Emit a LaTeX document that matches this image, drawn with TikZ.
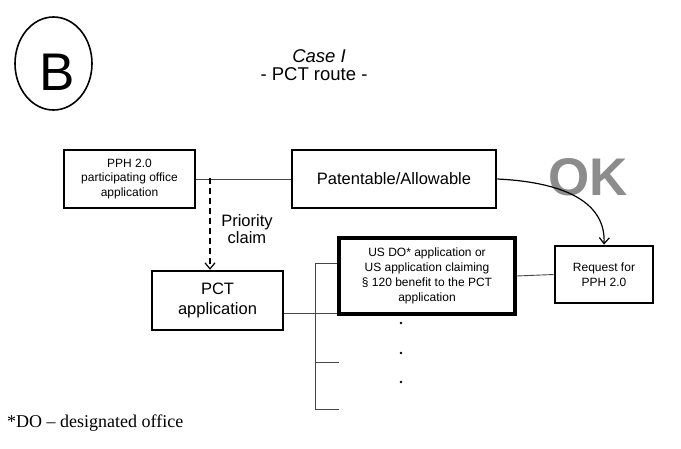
\documentclass[tikz,border=0pt]{standalone}
\usepackage{fontspec}
\setmainfont{Liberation Sans}
\newfontfamily\notefont{Liberation Serif}
\usetikzlibrary{arrows.meta}

\begin{document}
\begin{tikzpicture}[x=1pt,y=1pt,yscale=-1,xscale=1,
    box/.style={draw, line width=2.3pt, align=center, inner sep=0pt, font=\fontsize{12}{14.8}\selectfont},
    bigbox/.style={box, line width=2.8pt, font=\fontsize{16.5}{20}\selectfont},
    link/.style={color={rgb, 255:red, 70; green, 70; blue, 70}, line width=0.9pt},
    barb/.style={-{Straight Barb[length=6pt,width=10pt]}}]
\useasboundingbox (0,0) rectangle (681,448);
% Circled letter
\draw [line width=1.6pt] (53.5,63.5) ellipse [x radius=38.5, y radius=46.5];
\node (lbl) at (57,90) [anchor=base, inner sep=0pt] {\fontsize{53}{53}\selectfont B};
% Text Node
\node (case) at (319,62) [anchor=base, inner sep=0pt] {\fontsize{18.5}{20}\selectfont\itshape Case I};
% Text Node
\node (route) at (314,80) [anchor=base, inner sep=0pt] {\fontsize{18.5}{20}\selectfont - PCT route -};

% Boxes
\node (pph) at (129.5,179) [box, minimum width=131pt, minimum height=58pt] {PPH 2.0\\participating office\\application};
\node (pat) at (394,179) [bigbox, minimum width=204pt, minimum height=58pt] {Patentable/Allowable};
\node (pct) at (217.5,300.5) [bigbox, line width=2.5pt, minimum width=131pt, minimum height=59pt] {PCT\\application};
\node (us) at (427,276) [box, line width=3.3pt, minimum width=176pt, minimum height=76pt] {US DO* application or\\US application claiming\\§ 120 benefit to the PCT\\application};
\node (req) at (604,274.5) [box, line width=2.8pt, minimum width=98pt, minimum height=57pt] {Request for\\PPH 2.0};

% Text Node
\node (ok) at (588,195) [anchor=base, inner sep=0pt, text=black!45, font=\fontsize{53}{53}\selectfont\bfseries] {OK};
% Text Node
\node (prio) at (247,229) [align=center, inner sep=0pt, font=\fontsize{16.5}{17.5}\selectfont] {Priority\\claim};

%Straight Lines
\draw [link] (pph.east) -- (pat.west);
\coordinate (split) at (210,178);
\draw [dashed, dash pattern=on 6pt off 4pt, line width=1.2pt, barb] (split) -- (split |- pct.north);
\draw [link] (pct.east |- 0,313) -- (us.west |- 0,313);
\draw [link] (us.east) -- (req.west);
% Bracket
\coordinate (brtop) at (315,263);
\coordinate (brmid) at (315,362);
\coordinate (brbot) at (315,409);
\draw [link] (us.west |- brtop) -- (brtop) -- (brbot) -- ++(24,0);
\draw [link] (brmid) -- ++(24,0);
% Curve
\draw [line width=1.2pt, barb] (pat.east) .. controls (560,182) and (606,200) .. (req.north);
% Dots
\foreach \y in {323,353,382} \fill (401,\y) circle [radius=1.3];

% Text Node
\node (note) at (7,427) [anchor=base west, inner sep=0pt, font=\notefont\fontsize{18}{20}\selectfont] {*DO – designated office};
\end{tikzpicture}
\end{document}
